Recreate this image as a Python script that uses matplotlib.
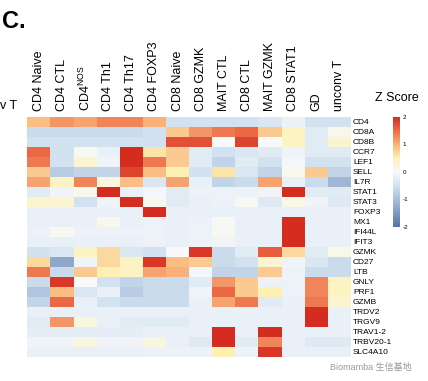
import numpy as np
import matplotlib
matplotlib.use("Agg")
import matplotlib.pyplot as plt
from matplotlib.colors import LinearSegmentedColormap

plt.rcParams['font.family'] = ['Liberation Sans', 'Noto Sans CJK SC', 'DejaVu Sans']
plt.rcParams['mathtext.fontset'] = 'custom'
plt.rcParams['mathtext.rm'] = 'Liberation Sans'
plt.rcParams['axes.unicode_minus'] = False

# cell types (columns) and genes (rows)
cell_types = ['CD4 Naive', 'CD4 CTL', r'CD4$^{\mathrm{NOS}}$', 'CD4 Th1', 'CD4 Th17',
              'CD4 FOXP3', 'CD8 Naive', 'CD8 GZMK', 'MAIT CTL', 'CD8 CTL',
              'MAIT GZMK', 'CD8 STAT1', 'GD', 'unconv T']
genes = ['CD4', 'CD8A', 'CD8B', 'CCR7', 'LEF1', 'SELL', 'IL7R', 'STAT1', 'STAT3',
         'FOXP3', 'MX1', 'IFI44L', 'IFIT3', 'GZMK', 'CD27', 'LTB', 'GNLY', 'PRF1',
         'GZMB', 'TRDV2', 'TRGV9', 'TRAV1-2', 'TRBV20-1', 'SLC4A10']

# z scores, one list per gene
z = [
    [0.9, 1.2, 1.1, 1.3, 1.3, 1.0, -0.5, -0.5, -0.5, -0.5, -0.4, -0.15, -0.5, -0.5],   # CD4
    [-0.6, -0.6, -0.6, -0.6, -0.6, -0.5, 0.8, 1.2, 1.4, 1.5, 0.8, 0.4, -0.3, 0.1],      # CD8A
    [-0.5, -0.5, -0.5, -0.5, -0.5, -0.5, 1.7, 1.7, 0.0, 1.8, 0.0, 0.4, -0.3, 0.3],      # CD8B
    [1.5, -0.5, 0.05, -0.2, 2.0, 0.6, 0.8, -0.3, -0.5, -0.4, -0.3, -0.1, -0.3, -0.3],   # CCR7
    [1.4, -0.5, 0.3, -0.1, 2.0, 1.4, 0.8, -0.3, -0.7, -0.3, -0.5, -0.05, -0.5, -0.5],   # LEF1
    [0.8, -0.8, -0.7, -0.7, 1.8, 0.9, 0.5, -0.5, 0.6, -0.4, -0.7, 0.1, 0.8, -0.7],      # SELL
    [1.1, 0.4, 1.3, 0.2, 0.9, -0.4, 1.1, -0.2, -0.7, -0.6, 1.1, -0.2, -0.6, -1.1],      # IL7R
    [-0.3, -0.1, 0.1, 2.0, -0.2, -0.05, -0.3, -0.15, -0.15, -0.15, -0.1, 2.0, -0.3, -0.3],  # STAT1
    [0.3, 0.3, -0.5, -0.1, 2.0, 0.1, -0.3, -0.2, -0.15, 0.05, -0.35, 0.15, -0.1, -0.35],    # STAT3
    [-0.2, -0.2, -0.2, -0.2, -0.2, 2.0, -0.2, -0.2, -0.2, -0.2, -0.2, -0.2, -0.2, -0.2],    # FOXP3
    [-0.2, -0.2, -0.2, 0.1, -0.2, -0.15, -0.2, -0.15, 0.05, -0.2, -0.2, 2.0, -0.2, -0.2],   # MX1
    [-0.15, 0.05, -0.15, -0.15, -0.15, -0.15, -0.2, -0.15, 0.05, -0.2, -0.2, 2.0, -0.2, -0.2],  # IFI44L
    [-0.2, -0.2, -0.2, -0.2, -0.2, -0.15, -0.2, -0.15, -0.1, -0.2, -0.2, 2.0, -0.2, -0.2],  # IFIT3
    [-0.5, -0.4, 0.4, 0.7, -0.4, -0.5, 0.0, 1.9, -0.6, -0.3, 1.6, 0.7, -0.3, 0.15],     # GZMK
    [0.7, -1.3, -0.1, 0.7, 0.4, 1.9, 0.9, 0.8, -0.6, -0.5, 0.3, -0.1, -0.4, -0.6],      # CD27
    [1.4, -0.6, 0.8, 0.5, 0.4, 1.1, 1.0, -0.05, -0.7, -0.7, 0.8, -0.15, -0.6, -0.6],    # LTB
    [-0.6, 1.9, 0.0, -0.5, -0.7, -0.6, -0.6, -0.3, 1.2, 0.8, -0.15, -0.15, 1.3, 0.4],   # GNLY
    [-0.9, 0.9, -0.4, -0.2, -0.8, -0.6, -0.6, -0.1, 1.5, 0.8, 0.5, -0.15, 1.3, 0.4],    # PRF1
    [-0.7, 1.5, -0.2, -0.5, -0.6, -0.6, -0.6, -0.2, 1.1, 1.4, -0.3, -0.2, 1.4, 0.3],    # GZMB
    [-0.2, -0.2, -0.2, -0.2, -0.2, -0.2, -0.2, -0.2, -0.2, -0.2, -0.2, -0.2, 2.0, -0.2],    # TRDV2
    [-0.3, 1.2, 0.2, -0.2, -0.3, -0.3, -0.3, -0.2, -0.2, -0.2, -0.2, -0.2, 2.0, -0.2],      # TRGV9
    [-0.25, -0.25, -0.25, -0.25, -0.25, -0.2, -0.2, -0.2, 2.0, -0.2, 2.0, -0.2, -0.2, -0.2],  # TRAV1-2
    [-0.1, -0.1, 0.2, -0.1, -0.1, 0.2, -0.2, -0.35, 2.0, -0.3, 1.3, -0.2, -0.35, -0.35],  # TRBV20-1
    [-0.2, -0.2, -0.2, -0.2, -0.2, -0.15, -0.15, -0.15, 0.5, -0.15, 1.9, -0.2, -0.2, -0.2],  # SLC4A10
]

cmap = LinearSegmentedColormap.from_list('zs', [
    (0.0, '#5673a8'), (0.25, '#a9bedb'), (0.375, '#d3e2f0'), (0.5, '#f7f9fb'),
    (0.625, '#fdf1b4'), (0.75, '#f9b27a'), (0.875, '#ec6a45'), (1.0, '#d42d1f')])

fig = plt.figure(figsize=(4.28, 3.81), dpi=100)
ax = fig.add_axes([0.0638, 0.0638, 0.756, 0.6299])
data = np.array(z)
mesh = ax.pcolormesh(data, cmap=cmap, vmin=-2, vmax=2)
ax.set_xlim(0, len(cell_types))
ax.set_ylim(len(genes), 0)

ax.xaxis.tick_top()
ax.set_xticks(np.arange(len(cell_types)) + 0.5)
ax.set_xticklabels(cell_types, rotation=90, fontsize=9, va='bottom')
ax.yaxis.tick_right()
ax.set_yticks(np.arange(len(genes)) + 0.5)
ax.set_yticklabels(genes, fontsize=6)
ax.tick_params(axis='x', length=0, pad=4)
ax.tick_params(axis='y', length=0, pad=1.5)
for s in ax.spines.values():
    s.set_visible(False)

# colorbar
cax = fig.add_axes([0.9175, 0.4042, 0.0171, 0.2895])
cb = fig.colorbar(mesh, cax=cax, ticks=[-2, -1, 0, 1, 2])
cb.outline.set_visible(False)
cax.tick_params(length=0, labelsize=4.5, pad=2)
fig.text(0.928, 0.735, 'Z Score', fontsize=9, ha='center', va='baseline')

fig.text(0.005, 0.975, 'C.', fontsize=17, fontweight='bold', va='top')
fig.text(0.0, 0.715, 'v T', fontsize=9, va='baseline')
fig.text(0.77, 0.035, 'Biomamba 生信基地', fontsize=6.5, color='#9a9a9a', va='center')

fig.savefig('out.png', dpi=100)
